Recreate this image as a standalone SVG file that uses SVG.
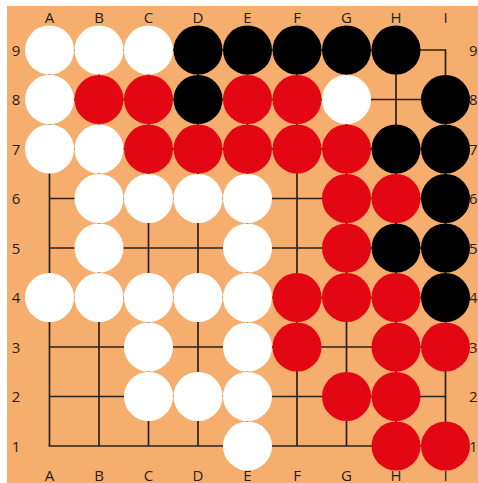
<svg xmlns="http://www.w3.org/2000/svg" width="478" height="483" viewBox="0 0 478 483">
<style>
.lbl{font-family:"Open Sans","Liberation Sans",sans-serif;font-size:15px;font-weight:500;fill:#231f20;}
.c{text-anchor:middle}
.grid line{stroke:#2a2016;stroke-width:1.7}
.w{fill:#ffffff}
.r{fill:#e30613}
.b{fill:#000000}
</style>
<rect x="0" y="0" width="478" height="483" fill="#ffffff"/>
<rect x="7" y="6" width="471" height="477" fill="#f6ae6f"/>
<g id="labels" class="lbl">
<text class="c" x="49.5" y="23">A</text><text class="c" x="99" y="23">B</text><text class="c" x="148.5" y="23">C</text><text class="c" x="198" y="23">D</text><text class="c" x="247.5" y="23">E</text><text class="c" x="297" y="23">F</text><text class="c" x="346.5" y="23">G</text><text class="c" x="396" y="23">H</text><text class="c" x="445.5" y="23">I</text>
<text class="c" x="49.5" y="480.5">A</text><text class="c" x="99" y="480.5">B</text><text class="c" x="148.5" y="480.5">C</text><text class="c" x="198" y="480.5">D</text><text class="c" x="247.5" y="480.5">E</text><text class="c" x="297" y="480.5">F</text><text class="c" x="346.5" y="480.5">G</text><text class="c" x="396" y="480.5">H</text><text class="c" x="445.5" y="480.5">I</text>
<text class="c" x="16" y="55.5">9</text><text class="c" x="16" y="105">8</text><text class="c" x="16" y="154.5">7</text><text class="c" x="16" y="204">6</text><text class="c" x="16" y="253.5">5</text><text class="c" x="16" y="303">4</text><text class="c" x="16" y="352.5">3</text><text class="c" x="16" y="402">2</text><text class="c" x="16" y="451.5">1</text>
<text x="469" y="55.5">9</text><text x="469" y="105">8</text><text x="469" y="154.5">7</text><text x="469" y="204">6</text><text x="469" y="253.5">5</text><text x="469" y="303">4</text><text x="469" y="352.5">3</text><text x="469" y="402">2</text><text x="469" y="451.5">1</text>
</g>
<g id="connectors" class="grid">
<line x1="49.5" y1="50" x2="445.5" y2="50"/><line x1="49.5" y1="99.5" x2="445.5" y2="99.5"/><line x1="49.5" y1="149" x2="445.5" y2="149"/><line x1="49.5" y1="198.5" x2="445.5" y2="198.5"/><line x1="49.5" y1="248" x2="445.5" y2="248"/><line x1="49.5" y1="297.5" x2="445.5" y2="297.5"/><line x1="49.5" y1="347" x2="445.5" y2="347"/><line x1="49.5" y1="396.5" x2="445.5" y2="396.5"/><line x1="48.65" y1="446" x2="446.35" y2="446"/>
<line x1="49.5" y1="50" x2="49.5" y2="446"/><line x1="99" y1="50" x2="99" y2="446"/><line x1="148.5" y1="50" x2="148.5" y2="446"/><line x1="198" y1="50" x2="198" y2="446"/><line x1="247.5" y1="50" x2="247.5" y2="446"/><line x1="297" y1="50" x2="297" y2="446"/><line x1="346.5" y1="50" x2="346.5" y2="446"/><line x1="396" y1="50" x2="396" y2="446"/><line x1="445.5" y1="49.15" x2="445.5" y2="446.85"/>
</g>
<g id="stones">
<g id="row9"><circle class="w" cx="49.5" cy="50" r="24.5"/><circle class="w" cx="99" cy="50" r="24.5"/><circle class="w" cx="148.5" cy="50" r="24.5"/><circle class="b" cx="198" cy="50" r="24.5"/><circle class="b" cx="247.5" cy="50" r="24.5"/><circle class="b" cx="297" cy="50" r="24.5"/><circle class="b" cx="346.5" cy="50" r="24.5"/><circle class="b" cx="396" cy="50" r="24.5"/></g>
<g id="row8"><circle class="w" cx="49.5" cy="99.5" r="24.5"/><circle class="r" cx="99" cy="99.5" r="24.5"/><circle class="r" cx="148.5" cy="99.5" r="24.5"/><circle class="b" cx="198" cy="99.5" r="24.5"/><circle class="r" cx="247.5" cy="99.5" r="24.5"/><circle class="r" cx="297" cy="99.5" r="24.5"/><circle class="w" cx="346.5" cy="99.5" r="24.5"/><circle class="b" cx="445.5" cy="99.5" r="24.5"/></g>
<g id="row7"><circle class="w" cx="49.5" cy="149" r="24.5"/><circle class="w" cx="99" cy="149" r="24.5"/><circle class="r" cx="148.5" cy="149" r="24.5"/><circle class="r" cx="198" cy="149" r="24.5"/><circle class="r" cx="247.5" cy="149" r="24.5"/><circle class="r" cx="297" cy="149" r="24.5"/><circle class="r" cx="346.5" cy="149" r="24.5"/><circle class="b" cx="396" cy="149" r="24.5"/><circle class="b" cx="445.5" cy="149" r="24.5"/></g>
<g id="row6"><circle class="w" cx="99" cy="198.5" r="24.5"/><circle class="w" cx="148.5" cy="198.5" r="24.5"/><circle class="w" cx="198" cy="198.5" r="24.5"/><circle class="w" cx="247.5" cy="198.5" r="24.5"/><circle class="r" cx="346.5" cy="198.5" r="24.5"/><circle class="r" cx="396" cy="198.5" r="24.5"/><circle class="b" cx="445.5" cy="198.5" r="24.5"/></g>
<g id="row5"><circle class="w" cx="99" cy="248" r="24.5"/><circle class="w" cx="247.5" cy="248" r="24.5"/><circle class="r" cx="346.5" cy="248" r="24.5"/><circle class="b" cx="396" cy="248" r="24.5"/><circle class="b" cx="445.5" cy="248" r="24.5"/></g>
<g id="row4"><circle class="w" cx="49.5" cy="297.5" r="24.5"/><circle class="w" cx="99" cy="297.5" r="24.5"/><circle class="w" cx="148.5" cy="297.5" r="24.5"/><circle class="w" cx="198" cy="297.5" r="24.5"/><circle class="w" cx="247.5" cy="297.5" r="24.5"/><circle class="r" cx="297" cy="297.5" r="24.5"/><circle class="r" cx="346.5" cy="297.5" r="24.5"/><circle class="r" cx="396" cy="297.5" r="24.5"/><circle class="b" cx="445.5" cy="297.5" r="24.5"/></g>
<g id="row3"><circle class="w" cx="148.5" cy="347" r="24.5"/><circle class="w" cx="247.5" cy="347" r="24.5"/><circle class="r" cx="297" cy="347" r="24.5"/><circle class="r" cx="396" cy="347" r="24.5"/><circle class="r" cx="445.5" cy="347" r="24.5"/></g>
<g id="row2"><circle class="w" cx="148.5" cy="396.5" r="24.5"/><circle class="w" cx="198" cy="396.5" r="24.5"/><circle class="w" cx="247.5" cy="396.5" r="24.5"/><circle class="r" cx="346.5" cy="396.5" r="24.5"/><circle class="r" cx="396" cy="396.5" r="24.5"/></g>
<g id="row1"><circle class="w" cx="247.5" cy="446" r="24.5"/><circle class="r" cx="396" cy="446" r="24.5"/><circle class="r" cx="445.5" cy="446" r="24.5"/></g>
</g>
</svg>
